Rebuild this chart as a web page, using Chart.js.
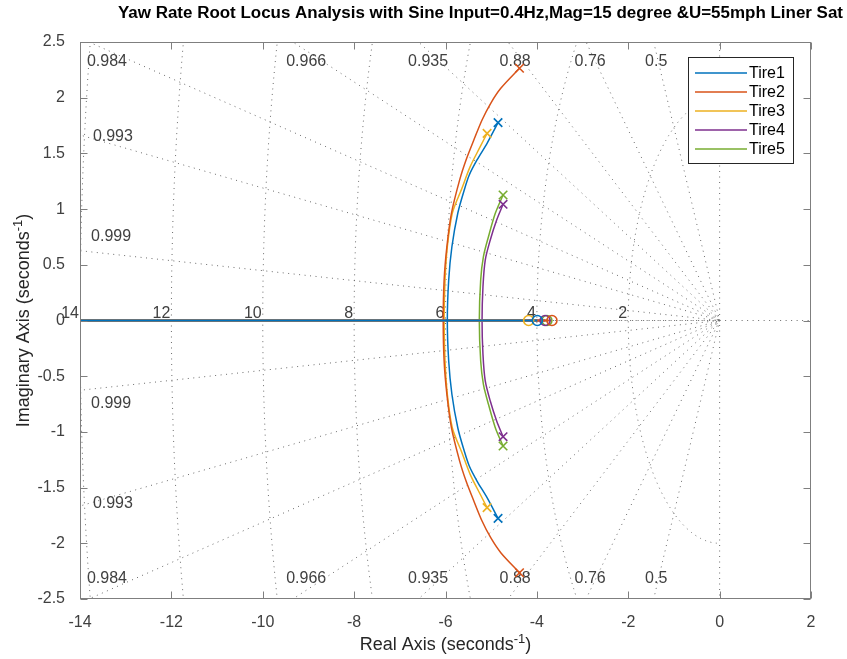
<!DOCTYPE html>
<html>
<head>
<meta charset="utf-8">
<script src="https://cdn.jsdelivr.net/npm/chart.js@4.4.1/dist/chart.umd.min.js"></script>
<style>
  html, body { margin: 0; padding: 0; background: #fff; }
  #wrap { width: 847px; height: 659px; position: relative; }
</style>
</head>
<body>
<div id="wrap"><canvas id="rlocus"></canvas></div>
<script>
const titleText = 'Yaw Rate Root Locus Analysis with Sine Input=0.4Hz,Mag=15 degree &U=55mph Liner Sat';
const tireNames = ['Tire1', 'Tire2', 'Tire3', 'Tire4', 'Tire5'];
const tireColors = ['#0072BD', '#D95319', '#EDB120', '#7E2F8E', '#77AC30'];

// open-loop poles (upper half plane) and zeros per tire
const poleRe = [-4.85, -4.38, -5.09, -4.74, -4.74];
const poleIm = [1.776, 2.264, 1.680, 1.043, 1.127];
const zeroRe = [-3.99, -3.67, -4.18, -3.82, -3.78];

// upper complex branch, pole -> break-in on the real axis
const tire1Re = [-4.85, -5.09, -5.31, -5.48, -5.59, -5.73, -5.86, -5.93, -5.96];
const tire1Im = [1.776, 1.591, 1.441, 1.306, 1.171, 0.965, 0.662, 0.364, 0];
const tire2Re = [-4.38, -4.79, -5.01, -5.20, -5.38, -5.55, -5.69, -5.87, -5.97, -6.03, -6.05];
const tire2Im = [2.264, 2.084, 1.950, 1.800, 1.620, 1.441, 1.262, 0.962, 0.662, 0.364, 0];
const tire3Re = [-5.09, -5.24, -5.46, -5.64, -5.85, -5.96, -6.01, -6.03];
const tire3Im = [1.680, 1.560, 1.381, 1.187, 0.965, 0.662, 0.364, 0];
const tire4Re = [-4.74, -4.88, -5.02, -5.13, -5.18, -5.20];
const tire4Im = [1.043, 0.902, 0.723, 0.543, 0.303, 0];
const tire5Re = [-4.74, -4.91, -5.06, -5.17, -5.23, -5.26];
const tire5Im = [1.127, 0.962, 0.752, 0.573, 0.364, 0];
const branchRe = [tire1Re, tire2Re, tire3Re, tire4Re, tire5Re];
const branchIm = [tire1Im, tire2Im, tire3Im, tire4Im, tire5Im];

// s-plane grid
const zetaValues = [0, 0.5, 0.76, 0.88, 0.935, 0.966, 0.984, 0.993, 0.999, 1];
const wnValues = [2, 4, 6, 8, 10, 12, 14];
const zetaLabels = ['0.984', '0.966', '0.935', '0.88', '0.76', '0.5', '0.993', '0.999'];
const zetaLabelRe = [-13.41, -9.05, -6.38, -4.475, -2.833, -1.388, -13.28, -13.32];
const zetaLabelIm = [2.32, 2.32, 2.32, 2.32, 2.32, 2.32, 1.647, 0.75];

const xTicks = [-14, -12, -10, -8, -6, -4, -2, 0, 2];
const yTicks = [-2.5, -2, -1.5, -1, -0.5, 0, 0.5, 1, 1.5, 2, 2.5];

const FONT = '"Liberation Sans", Arial, Helvetica, sans-serif';
const GRID = '#6a6a6a';
const DOTS = [1, 4.5];

const datasets = [];

// pole / zero markers on top
tireNames.forEach((name, i) => {
  datasets.push({
    label: name + ' poles',
    data: [{x: poleRe[i], y: poleIm[i]}, {x: poleRe[i], y: -poleIm[i]}],
    pointStyle: 'crossRot', pointRadius: 6, pointBorderWidth: 1.6,
    borderColor: tireColors[i], backgroundColor: tireColors[i], showLine: false
  });
  datasets.push({
    label: name + ' zero',
    data: [{x: zeroRe[i], y: 0}],
    pointStyle: 'circle', pointRadius: 5, pointBorderWidth: 1.6,
    borderColor: tireColors[i], backgroundColor: 'rgba(0,0,0,0)', showLine: false
  });
});

// locus branches
tireNames.forEach((name, i) => {
  const re = branchRe[i], im = branchIm[i];
  const upper = re.map((v, k) => ({x: v, y: im[k]}));
  const lower = re.map((v, k) => ({x: v, y: -im[k]})).reverse().slice(1);
  datasets.push({
    label: name,
    data: upper.concat(lower),
    showLine: true, borderColor: tireColors[i], borderWidth: 1.5,
    pointRadius: 0, tension: 0.3, fill: false
  });
  datasets.push({
    label: name + ' real',
    data: [{x: zeroRe[i], y: 0}, {x: -20, y: 0}],
    showLine: true, borderColor: tireColors[i], borderWidth: 2,
    pointRadius: 0, fill: false
  });
});

const dotted = pts => ({
  label: 'grid', data: pts,
  showLine: true, borderColor: GRID, borderWidth: 1, borderDash: DOTS,
  pointRadius: 0, fill: false
});

// damping ratio rays
zetaValues.forEach(z => {
  const s = Math.sqrt(1 - z * z);
  const r = 40;
  datasets.push(dotted([{x: -r * z, y: r * s}, {x: 0, y: 0}, {x: -r * z, y: -r * s}]));
});
// real axis to the right of the origin
datasets.push(dotted([{x: 0, y: 0}, {x: 5, y: 0}]));

// natural frequency arcs (left half plane)
wnValues.forEach(w => {
  const pts = [];
  for (let k = 0; k <= 180; k++) {
    const t = Math.PI / 2 + Math.PI * k / 180;
    pts.push({x: w * Math.cos(t), y: w * Math.sin(t)});
  }
  datasets.push(dotted(pts));
});

// text for the s-plane grid, sitting under the loci
const gridText = {
  id: 'gridText',
  beforeDatasetsDraw(chart) {
    const {ctx, scales: {x, y}} = chart;
    ctx.save();
    ctx.font = '16px ' + FONT;
    ctx.fillStyle = '#404040';
    ctx.textAlign = 'center';
    ctx.textBaseline = 'middle';
    zetaLabels.forEach((t, i) => {
      ctx.fillText(t, x.getPixelForValue(zetaLabelRe[i]), y.getPixelForValue(zetaLabelIm[i]));
      ctx.fillText(t, x.getPixelForValue(zetaLabelRe[i]), y.getPixelForValue(-zetaLabelIm[i]));
    });
    ctx.textAlign = 'right';
    ctx.textBaseline = 'alphabetic';
    wnValues.forEach(w => {
      ctx.fillText(String(w), x.getPixelForValue(-w) - 1, y.getPixelForValue(0) - 3);
    });
    ctx.restore();
  }
};

// frame, inward ticks, title, axis titles and legend
const decorations = {
  id: 'decorations',
  afterDraw(chart) {
    const {ctx, chartArea: a, scales: {x, y}} = chart;
    const L = Math.round(a.left) + 0.5, R = Math.round(a.right) - 0.5;
    const T = Math.round(a.top) + 0.5, B = Math.round(a.bottom) - 0.5;
    ctx.save();
    ctx.strokeStyle = '#7f7f7f';
    ctx.lineWidth = 1;
    ctx.strokeRect(L, T, R - L, B - T);
    ctx.beginPath();
    xTicks.forEach(v => {
      const px = Math.round(x.getPixelForValue(v)) + 0.5;
      ctx.moveTo(px, B); ctx.lineTo(px, B - 7);
      ctx.moveTo(px, T); ctx.lineTo(px, T + 7);
    });
    yTicks.forEach(v => {
      const py = Math.round(y.getPixelForValue(v)) + 0.5;
      ctx.moveTo(L, py); ctx.lineTo(L + 7, py);
      ctx.moveTo(R, py); ctx.lineTo(R - 7, py);
    });
    ctx.stroke();

    // title
    ctx.fillStyle = '#000';
    ctx.font = 'bold 16px ' + FONT;
    const tw = ctx.measureText(titleText).width;
    ctx.save();
    ctx.translate(480.5, 18);
    ctx.scale(725 / tw, 1);
    ctx.textAlign = 'center';
    ctx.textBaseline = 'alphabetic';
    ctx.fillText(titleText, 0, 0);
    ctx.restore();

    // axis titles with a superscript -1
    const axisTitle = (base, cx, cy) => {
      ctx.font = '18px ' + FONT;
      const w1 = ctx.measureText(base).width;
      ctx.font = '13px ' + FONT;
      const w2 = ctx.measureText('-1').width;
      ctx.font = '18px ' + FONT;
      const w3 = ctx.measureText(')').width;
      const sx = cx - (w1 + w2 + w3) / 2;
      ctx.textAlign = 'left';
      ctx.textBaseline = 'alphabetic';
      ctx.fillText(base, sx, cy);
      ctx.font = '13px ' + FONT;
      ctx.fillText('-1', sx + w1, cy - 7);
      ctx.font = '18px ' + FONT;
      ctx.fillText(')', sx + w1 + w2, cy);
    };
    ctx.fillStyle = '#262626';
    axisTitle('Real Axis (seconds', (a.left + a.right) / 2, 650);
    ctx.save();
    ctx.translate(29, (a.top + a.bottom) / 2);
    ctx.rotate(-Math.PI / 2);
    axisTitle('Imaginary Axis (seconds', 0, 0);
    ctx.restore();

    // legend
    const lx = 688.5, ly = 57.5, lw = 105, lh = 106;
    ctx.fillStyle = '#fff';
    ctx.fillRect(lx, ly, lw, lh);
    ctx.strokeStyle = '#262626';
    ctx.strokeRect(lx, ly, lw, lh);
    ctx.font = '16px ' + FONT;
    ctx.textBaseline = 'middle';
    ctx.textAlign = 'left';
    tireNames.forEach((n, i) => {
      const yy = 73 + i * 19;
      ctx.strokeStyle = tireColors[i];
      ctx.lineWidth = 1.5;
      ctx.beginPath();
      ctx.moveTo(695, yy); ctx.lineTo(747, yy);
      ctx.stroke();
      ctx.fillStyle = '#000';
      ctx.fillText(n, 749, yy + 1);
    });
    ctx.restore();
  }
};

new Chart(document.getElementById('rlocus'), {
  type: 'scatter',
  data: { datasets },
  options: {
    responsive: true,
    maintainAspectRatio: false,
    animation: false,
    layout: { padding: { left: 0, right: 36, top: 42, bottom: 0 } },
    plugins: {
      legend: { display: false },
      title: { display: false },
      tooltip: { enabled: false }
    },
    scales: {
      x: {
        type: 'linear', min: -14, max: 2,
        afterBuildTicks: s => { s.ticks = xTicks.map(v => ({value: v})); },
        afterFit: s => { s.height = 60; },
        grid: { display: false },
        border: { display: false },
        ticks: {
          color: '#404040', padding: 6, maxRotation: 0,
          font: { family: FONT, size: 16 },
          callback: v => String(v)
        }
      },
      y: {
        type: 'linear', min: -2.5, max: 2.5,
        afterBuildTicks: s => { s.ticks = yTicks.map(v => ({value: v})); },
        afterFit: s => { s.width = 80; },
        grid: { display: false },
        border: { display: false },
        ticks: {
          color: '#404040', padding: 7,
          font: { family: FONT, size: 16 },
          callback: v => String(v)
        }
      }
    }
  },
  plugins: [gridText, decorations]
});
</script>
</body>
</html>
